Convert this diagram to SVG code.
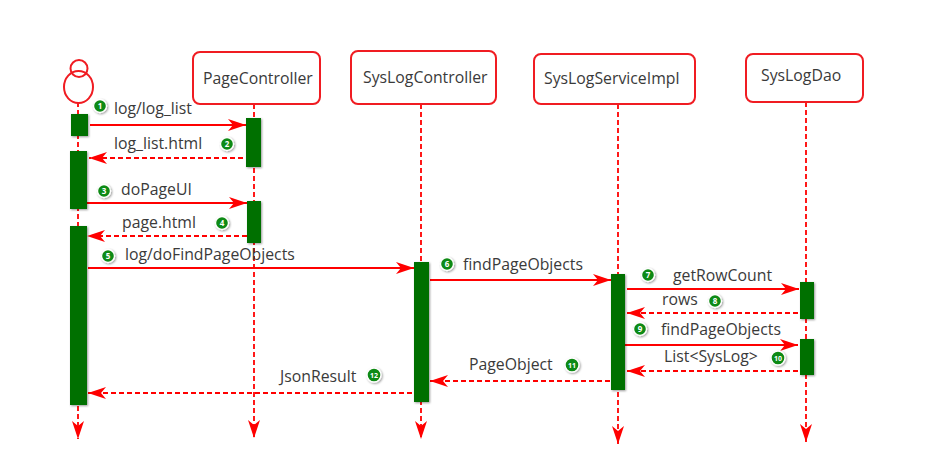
<svg xmlns="http://www.w3.org/2000/svg" width="927" height="468" viewBox="0 0 927 468">
  <style>
    text { font-family: "Open Sans", "Noto Sans", "Liberation Sans", sans-serif; font-size: 15.8px; fill: #3a3a3a; }
    .box { fill: #fff; stroke: #f01c22; stroke-width: 2; }
    .actor { fill: none; stroke: #f01c22; stroke-width: 2; }
    .life { fill: none; stroke: #ff0000; stroke-width: 1.8; stroke-dasharray: 5 3; }
    .call { fill: none; stroke: #ff0000; stroke-width: 2; }
    .ret { fill: none; stroke: #ff0000; stroke-width: 1.8; stroke-dasharray: 5 3; }
    .act { fill: #007000; filter: url(#shade); }
    .badge { fill: #0f8a12; stroke: #fff; stroke-width: 1.4; filter: url(#shade); }
    .num { font-size: 8px; fill: #fff; text-anchor: middle; font-weight: bold; }
  </style>
  <defs>
    <filter id="shade" x="-40%" y="-40%" width="190%" height="190%">
      <feDropShadow dx="1" dy="1" stdDeviation="1.2" flood-color="#000" flood-opacity="0.4"/>
    </filter>
    <marker id="head" markerUnits="userSpaceOnUse" markerWidth="20" markerHeight="14" refX="18" refY="7" orient="auto-start-reverse">
      <path d="M0 1 L18 7 L0 13 L5 7 Z" fill="#ff0000"/>
    </marker>
  </defs>

  <!-- lifelines and messages -->
  <g id="connectors">
    <path class="life" d="M78 102V439" marker-end="url(#head)"/>
    <path class="life" d="M254 104V438" marker-end="url(#head)"/>
    <path class="life" d="M421 104V439" marker-end="url(#head)"/>
    <path class="life" d="M618 104V444" marker-end="url(#head)"/>
    <path class="life" d="M806 102V442" marker-end="url(#head)"/>

    <path class="call" d="M90 125H246" marker-end="url(#head)"/>
    <path class="ret" d="M243 158H89" marker-end="url(#head)"/>
    <path class="call" d="M87 203H247" marker-end="url(#head)"/>
    <path class="ret" d="M247 236H87" marker-end="url(#head)"/>
    <path class="call" d="M88 268H414" marker-end="url(#head)"/>
    <path class="call" d="M430 280H611" marker-end="url(#head)"/>
    <path class="call" d="M627 289H799" marker-end="url(#head)"/>
    <path class="ret" d="M798 313H627" marker-end="url(#head)"/>
    <path class="call" d="M625 345H798" marker-end="url(#head)"/>
    <path class="ret" d="M798 371H627" marker-end="url(#head)"/>
    <path class="ret" d="M610 381H430" marker-end="url(#head)"/>
    <path class="ret" d="M412 393H88" marker-end="url(#head)"/>
  </g>

  <g id="actor">
    <ellipse class="actor" cx="78.500" cy="87" rx="14.500" ry="16"/>
    <circle class="actor" cx="79" cy="68.500" r="8.500"/>
  </g>
  <g id="page-controller">
    <rect class="box" x="193" y="52" width="127" height="52" rx="7"/>
    <text x="203" y="84">PageController</text>
  </g>
  <g id="syslog-controller">
    <rect class="box" x="351" y="51" width="145" height="53" rx="7"/>
    <text x="363" y="83">SysLogController</text>
  </g>
  <g id="syslog-service">
    <rect class="box" x="534" y="54" width="161" height="50" rx="7"/>
    <text x="544" y="84">SysLogServiceImpl</text>
  </g>
  <g id="syslog-dao">
    <rect class="box" x="746" y="54" width="117" height="48" rx="7"/>
    <text x="761" y="81">SysLogDao</text>
  </g>

  <!-- activation bars -->
  <g id="activations">
    <rect class="act" x="71" y="114" width="17" height="22"/>
    <rect class="act" x="70" y="151" width="17" height="58"/>
    <rect class="act" x="70" y="226" width="17" height="179"/>
    <rect class="act" x="246" y="118" width="15" height="49"/>
    <rect class="act" x="247" y="201" width="14" height="42"/>
    <rect class="act" x="414" y="262" width="15" height="140"/>
    <rect class="act" x="611" y="274" width="14" height="116"/>
    <rect class="act" x="800" y="282" width="14" height="37"/>
    <rect class="act" x="800" y="339" width="14" height="36"/>
  </g>

  <g id="labels">
    <text x="114" y="114">log/log_list</text>
    <text x="114" y="149">log_list.html</text>
    <text x="121" y="195">doPageUI</text>
    <text x="122" y="228">page.html</text>
    <text x="125" y="260">log/doFindPageObjects</text>
    <text x="463" y="270">findPageObjects</text>
    <text x="673" y="281">getRowCount</text>
    <text x="662" y="305">rows</text>
    <text x="661" y="335">findPageObjects</text>
    <text x="664" y="362">List&lt;SysLog&gt;</text>
    <text x="469" y="370">PageObject</text>
    <text x="280" y="382">JsonResult</text>
  </g>

  <g id="badges">
    <circle class="badge" cx="100" cy="106" r="6.500"/><text class="num" x="100" y="109">1</text>
    <circle class="badge" cx="227" cy="144" r="6.500"/><text class="num" x="227" y="147">2</text>
    <circle class="badge" cx="104" cy="191" r="6.500"/><text class="num" x="104" y="194">3</text>
    <circle class="badge" cx="222" cy="223" r="6.500"/><text class="num" x="222" y="226">4</text>
    <circle class="badge" cx="108" cy="256" r="6.500"/><text class="num" x="108" y="259">5</text>
    <circle class="badge" cx="447" cy="264" r="6.500"/><text class="num" x="447" y="267">6</text>
    <circle class="badge" cx="648" cy="275" r="6.500"/><text class="num" x="648" y="278">7</text>
    <circle class="badge" cx="715" cy="301" r="6.500"/><text class="num" x="715" y="304">8</text>
    <circle class="badge" cx="640" cy="329" r="6.500"/><text class="num" x="640" y="332">9</text>
    <circle class="badge" cx="778" cy="358" r="7"/><text class="num" x="778" y="361" style="font-size:7px">10</text>
    <circle class="badge" cx="572" cy="365" r="7"/><text class="num" x="572" y="368" style="font-size:7px">11</text>
    <circle class="badge" cx="374" cy="375" r="7"/><text class="num" x="374" y="378" style="font-size:7px">12</text>
  </g>
</svg>
